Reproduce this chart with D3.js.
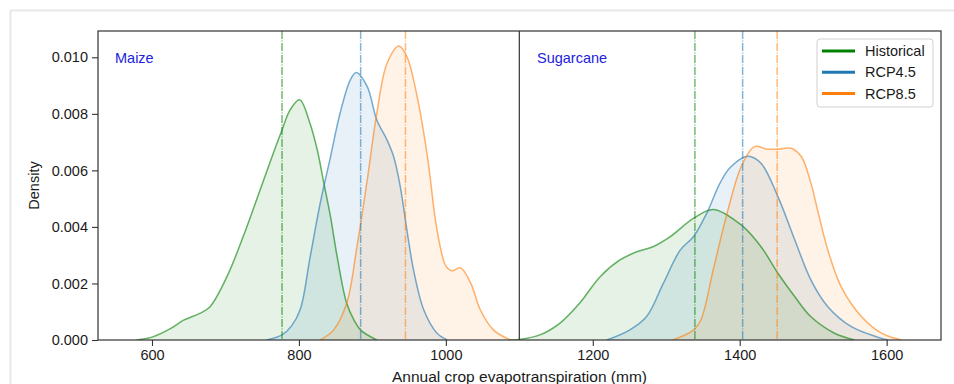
<!DOCTYPE html>
<html><head><meta charset="utf-8">
<script src="https://cdn.jsdelivr.net/npm/d3@7"></script>
<style>html,body{margin:0;padding:0;background:#fff;}svg{display:block;font-family:"Liberation Sans",Arial,sans-serif;}</style>
</head><body>
<svg id="chart" width="954" height="384"></svg>
<script>
// ---- data ----
const seriesNames = ["Historical", "RCP4.5", "RCP8.5"];
const panelNames = ["Maize", "Sugarcane"];
const xTicks = [600, 800, 1000, 1200, 1400, 1600];
const yTicks = [0, 0.002, 0.004, 0.006, 0.008, 0.010];

const maizeHistX = [579, 602, 625, 643, 665, 679, 702, 724, 747, 765, 777, 788, 801, 815, 825, 834, 843, 852, 865, 875, 884, 906];
const maizeHistY = [0, 0.00012, 0.0004, 0.0007, 0.00094, 0.00118, 0.00224, 0.00365, 0.0053, 0.0066, 0.00743, 0.00814, 0.0085, 0.00767, 0.00672, 0.00554, 0.00436, 0.00295, 0.0013, 0.0007, 0.00035, 0];
const maize45X = [756, 777, 790, 802, 815, 829, 843, 856, 870, 878, 893, 906, 920, 929, 938, 947, 956, 970, 988, 1002];
const maize45Y = [0, 0.00018, 0.0005, 0.0011, 0.0029, 0.00484, 0.00648, 0.00802, 0.0092, 0.00946, 0.00896, 0.00778, 0.00707, 0.00648, 0.00542, 0.00389, 0.00248, 0.00106, 0.00024, 0];
const maize85X = [829, 847, 865, 879, 893, 906, 920, 936, 947, 961, 975, 988, 1000, 1008, 1020, 1034, 1047, 1065, 1088];
const maize85Y = [0, 0.00035, 0.0013, 0.0033, 0.00566, 0.00802, 0.00979, 0.0104, 0.01002, 0.0086, 0.00648, 0.00389, 0.00262, 0.00245, 0.00255, 0.002, 0.00106, 0.00035, 0];

const sugarHistX = [1086, 1100, 1128, 1155, 1182, 1210, 1237, 1260, 1282, 1305, 1337, 1364, 1402, 1429, 1452, 1475, 1497, 1529, 1556];
const sugarHistY = [0, 0.00002, 0.00018, 0.00059, 0.0013, 0.00224, 0.00283, 0.00312, 0.0033, 0.00365, 0.0043, 0.00462, 0.00407, 0.0033, 0.00236, 0.00153, 0.00082, 0.00024, 0];
const sugar45X = [1219, 1250, 1273, 1296, 1319, 1337, 1355, 1373, 1387, 1411, 1429, 1452, 1475, 1497, 1520, 1552, 1588, 1602];
const sugar45Y = [0, 0.00035, 0.00082, 0.002, 0.00318, 0.00365, 0.00448, 0.00554, 0.0061, 0.0065, 0.00625, 0.00507, 0.00354, 0.00212, 0.00118, 0.00047, 0.0001, 0];
const sugar85X = [1309, 1337, 1347, 1365, 1384, 1402, 1420, 1436, 1452, 1470, 1484, 1497, 1506, 1520, 1538, 1566, 1593, 1620];
const sugar85Y = [0, 0.00035, 0.0007, 0.0026, 0.0046, 0.00613, 0.00684, 0.00676, 0.00675, 0.00678, 0.00648, 0.00554, 0.0046, 0.00318, 0.00189, 0.00082, 0.00024, 0];

const maizeMeans = [777, 884, 945];
const sugarMeans = [1339, 1404, 1451];
const panelDivider = 1100;

// ---- styles ----
const lineColors = ["#008000", "#1f77b4", "#ff7f0e"];
const W = 954, H = 384;
const L = 98, R = 941, T = 31, B = 340;

const svg = d3.select("#chart");
const x = d3.scaleLinear().domain([526.5, 1674]).range([L, R]);
const y = d3.scaleLinear().domain([0, 0.01093]).range([B, T]);

// outer light frame
svg.append("path").attr("d", `M10.5,${H}V10.5H${W}`).attr("fill", "none").attr("stroke", "#e8e8e8").attr("stroke-width", 2);

const clip = svg.append("defs").append("clipPath").attr("id", "pc");
clip.append("rect").attr("x", L).attr("y", T).attr("width", R - L).attr("height", B - T);

const g = svg.append("g").attr("clip-path", "url(#pc)");

const curves = [
  [maizeHistX, maizeHistY, 0], [maize45X, maize45Y, 1], [maize85X, maize85Y, 2],
  [sugarHistX, sugarHistY, 0], [sugar45X, sugar45Y, 1], [sugar85X, sugar85Y, 2]
];
const cv = d3.curveCatmullRom.alpha(0.5);
const area = d3.area().x(d => x(d[0])).y0(y(0)).y1(d => Math.min(y(0), y(d[1]))).curve(cv);
const line = d3.line().x(d => x(d[0])).y(d => y(d[1])).curve(cv);

curves.forEach(([xs, ys, s]) => {
  const pts = xs.map((v, i) => [v, ys[i]]);
  g.append("path").datum(pts).attr("d", area).attr("fill", lineColors[s]).attr("fill-opacity", 0.1);
});
curves.forEach(([xs, ys, s]) => {
  const pts = xs.map((v, i) => [v, ys[i]]);
  g.append("path").datum(pts).attr("d", line).attr("fill", "none")
    .attr("stroke", lineColors[s]).attr("stroke-opacity", 0.6).attr("stroke-width", 1.5);
});

// mean lines
[maizeMeans, sugarMeans].forEach(ms => ms.forEach((m, i) => {
  g.append("line").attr("x1", x(m)).attr("x2", x(m)).attr("y1", T).attr("y2", B)
    .attr("stroke", lineColors[i]).attr("stroke-opacity", 0.55).attr("stroke-width", 1.5)
    .attr("stroke-dasharray", "8,1.5,1,1.5");
}));

// divider
svg.append("line").attr("x1", x(panelDivider)).attr("x2", x(panelDivider)).attr("y1", T).attr("y2", B)
  .attr("stroke", "#333").attr("stroke-width", 1.2);

// axes
const xAxis = svg.append("g").attr("transform", `translate(0,${B})`)
  .call(d3.axisBottom(x).tickValues(xTicks).tickFormat(d3.format("d")).tickSize(6).tickPadding(4));
const yAxis = svg.append("g").attr("transform", `translate(${L},0)`)
  .call(d3.axisLeft(y).tickValues(yTicks).tickFormat(d3.format(".3f")).tickSize(6).tickPadding(4));
[xAxis, yAxis].forEach(a => {
  a.select(".domain").remove();
  a.selectAll("line").attr("stroke", "#333").attr("stroke-width", 1.1);
  a.selectAll("text").attr("font-size", 14.5).attr("fill", "#1a1a1a").attr("font-family", "'Liberation Sans', Arial, sans-serif");
});

// frame
svg.append("rect").attr("x", L).attr("y", T).attr("width", R - L).attr("height", B - T)
  .attr("fill", "none").attr("stroke", "#333").attr("stroke-width", 1.2);

// panel titles
const titleX = [115, 537];
panelNames.forEach((n, i) => {
  svg.append("text").attr("x", titleX[i]).attr("y", 62.5).text(n)
    .attr("font-size", 14.5).attr("fill", "#2222dd");
});

// axis labels
svg.append("text").attr("transform", `translate(39,${(T + B) / 2}) rotate(-90)`)
  .attr("text-anchor", "middle").attr("font-size", 14.5).attr("fill", "#1a1a1a").text("Density");
svg.append("text").attr("x", 519.5).attr("y", 382).attr("text-anchor", "middle")
  .attr("font-size", 15.5).attr("fill", "#1a1a1a").text("Annual crop evapotranspiration (mm)");

// legend
const lg = svg.append("g");
lg.append("rect").attr("x", 817).attr("y", 39).attr("width", 116).attr("height", 68).attr("rx", 3)
  .attr("fill", "#fff").attr("fill-opacity", 0.85).attr("stroke", "#d0d0d0").attr("stroke-width", 1);
seriesNames.forEach((n, i) => {
  const yy = 51 + i * 21.3;
  lg.append("line").attr("x1", 822).attr("x2", 855).attr("y1", yy).attr("y2", yy)
    .attr("stroke", lineColors[i]).attr("stroke-width", 3);
  lg.append("text").attr("x", 865).attr("y", yy + 5).attr("font-size", 14.5).attr("fill", "#1a1a1a").text(n);
});
</script>
</body></html>
